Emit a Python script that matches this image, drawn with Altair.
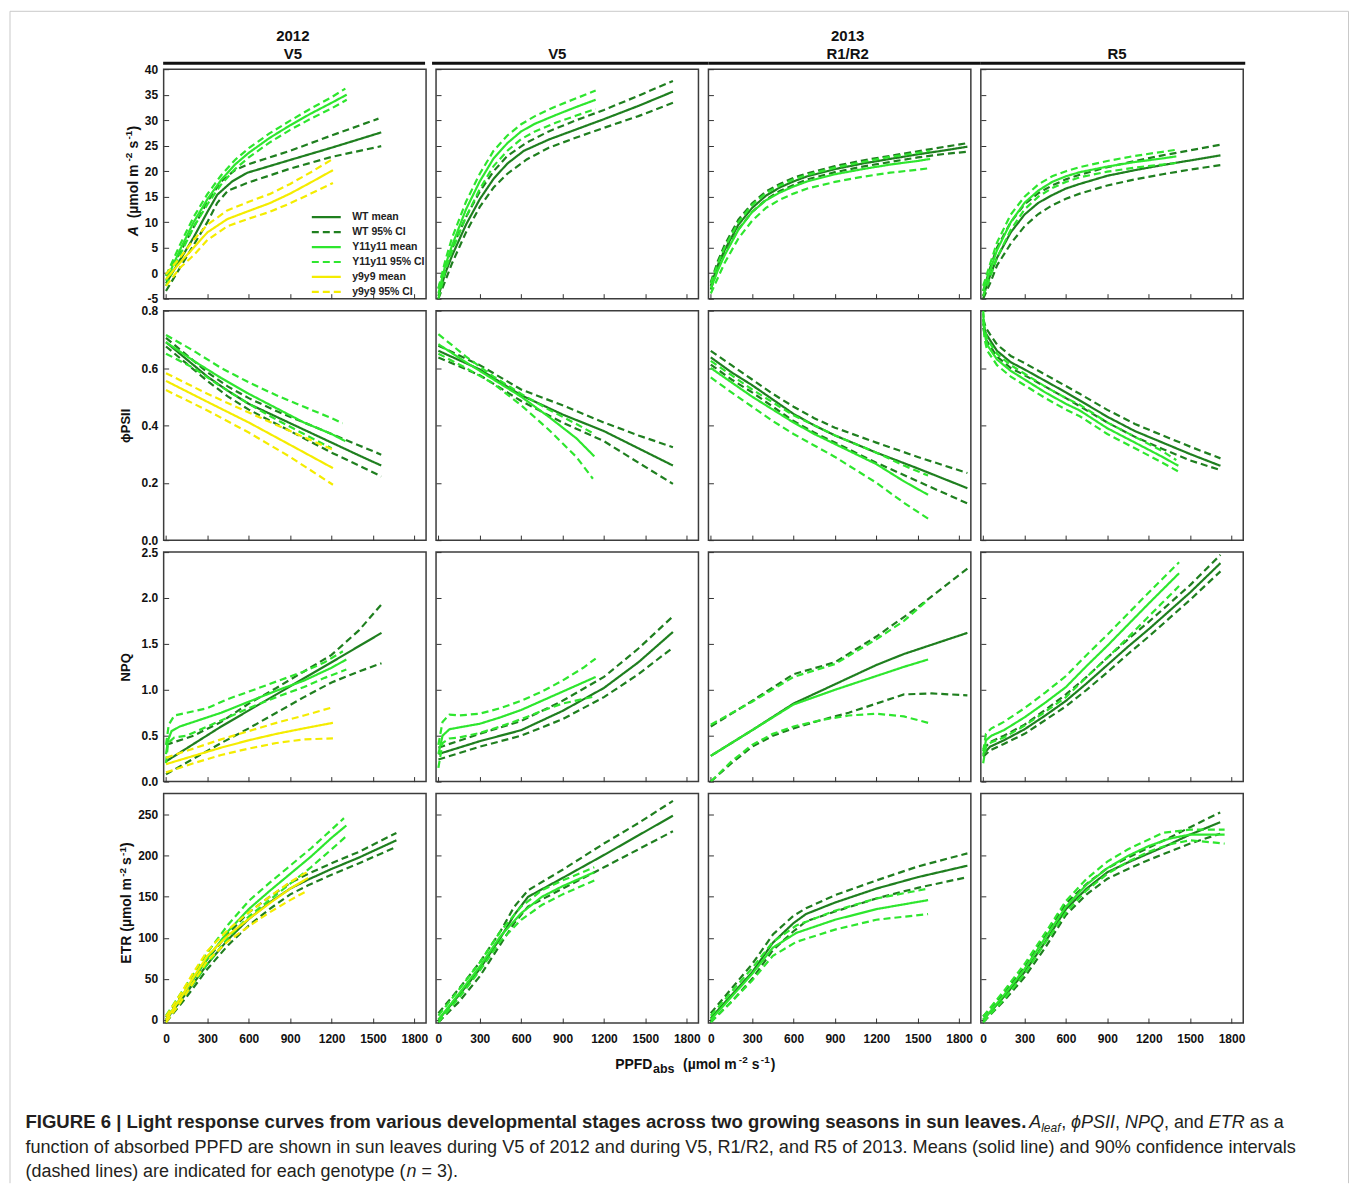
import altair as alt
import pandas as pd

FONT = "Liberation Sans"
DARK = "#1f7f1f"
BRIGHT = "#2ee62e"
YELLOW = "#f4ec00"

# ---------------------------------------------------------------------------
# Data: (PPFDabs, value) pairs per curve
# ---------------------------------------------------------------------------
# ---- A (umol m-2 s-1) ----
A_12V5_WT_MEAN = [(0, -2.0), (100, 2.5), (200, 7.0), (300, 12.0), (372, 15.4), (480, 18.0), (590, 19.7), (900, 22.2), (1200, 24.6), (1560, 27.6)]
A_12V5_WT_UP = [(0, -0.5), (100, 4.0), (200, 9.0), (300, 14.0), (400, 18.0), (500, 20.2), (590, 21.3), (900, 24.0), (1200, 27.0), (1540, 30.3)]
A_12V5_WT_LO = [(0, -3.5), (100, 1.0), (200, 5.5), (300, 10.0), (372, 13.8), (450, 16.2), (590, 17.7), (900, 20.5), (1200, 22.8), (1560, 24.9)]
A_12V5_Y11_MEAN = [(0, -1.5), (100, 4.5), (200, 10.0), (300, 14.5), (400, 18.3), (500, 21.3), (600, 23.6), (750, 26.5), (900, 29.0), (1050, 31.3), (1200, 33.4), (1310, 35.0)]
A_12V5_Y11_UP = [(0, -0.5), (100, 5.5), (200, 11.0), (300, 15.5), (400, 19.2), (500, 22.2), (600, 24.5), (750, 27.4), (900, 29.9), (1050, 32.3), (1200, 34.5), (1300, 36.2)]
A_12V5_Y11_LO = [(0, -2.5), (100, 3.5), (200, 9.0), (300, 13.5), (400, 17.4), (500, 20.4), (600, 22.7), (750, 25.6), (900, 28.1), (1050, 30.3), (1200, 32.3), (1310, 34.0)]
A_12V5_Y9_MEAN = [(0, -1.2), (100, 2.0), (200, 5.0), (300, 8.0), (444, 10.6), (600, 12.2), (750, 13.7), (900, 15.6), (1050, 17.8), (1210, 20.2)]
A_12V5_Y9_UP = [(0, -0.2), (100, 3.0), (200, 6.5), (300, 9.5), (444, 12.3), (600, 14.0), (750, 15.5), (900, 17.5), (1050, 19.8), (1210, 22.4)]
A_12V5_Y9_LO = [(0, -2.5), (100, 1.0), (200, 3.5), (300, 6.5), (444, 9.2), (600, 10.7), (750, 12.0), (900, 13.7), (1050, 15.6), (1210, 17.7)]

A_13V5_WT_MEAN = [(0, -4.5), (50, 0.0), (100, 3.5), (200, 9.5), (300, 14.5), (400, 18.5), (500, 21.5), (620, 24.0), (800, 26.2), (1000, 28.2), (1200, 30.2), (1450, 32.8), (1700, 35.6)]
A_13V5_WT_UP = [(0, -3.0), (50, 1.5), (100, 5.0), (200, 11.0), (300, 16.0), (400, 20.0), (500, 23.0), (640, 25.6), (800, 27.8), (1000, 30.0), (1200, 32.0), (1450, 34.8), (1700, 37.7)]
A_13V5_WT_LO = [(0, -5.0), (50, -1.5), (100, 2.0), (200, 8.0), (300, 13.0), (400, 16.8), (500, 19.5), (640, 22.3), (800, 24.6), (1000, 26.6), (1200, 28.5), (1450, 30.8), (1700, 33.4)]
A_13V5_Y11_MEAN = [(0, -4.0), (50, 1.5), (100, 5.5), (200, 12.5), (300, 18.0), (400, 22.5), (500, 25.5), (600, 27.8), (700, 29.3), (850, 31.0), (1000, 32.6), (1140, 34.0)]
A_13V5_Y11_UP = [(0, -3.0), (50, 2.5), (100, 7.0), (200, 14.0), (300, 19.5), (400, 24.0), (500, 27.0), (600, 29.2), (700, 30.8), (850, 32.7), (1000, 34.3), (1140, 35.8)]
A_13V5_Y11_LO = [(0, -5.0), (50, 0.5), (100, 4.5), (200, 11.0), (300, 16.5), (400, 21.0), (500, 24.0), (600, 26.3), (700, 27.8), (850, 29.5), (1000, 30.9), (1140, 32.2)]

A_R12_WT_MEAN = [(0, -2.5), (50, 1.5), (100, 4.5), (200, 9.5), (300, 12.8), (400, 15.2), (500, 16.8), (600, 18.0), (700, 19.0), (900, 20.4), (1100, 21.5), (1300, 22.4), (1500, 23.3), (1700, 24.1), (1860, 24.8)]
A_R12_WT_UP = [(0, -1.8), (50, 2.3), (100, 5.5), (200, 10.5), (300, 13.7), (400, 16.0), (500, 17.5), (600, 18.7), (700, 19.6), (900, 21.0), (1100, 22.1), (1300, 23.0), (1500, 23.9), (1700, 24.8), (1860, 25.5)]
A_R12_WT_LO = [(0, -3.2), (50, 0.8), (100, 3.7), (200, 8.6), (300, 12.0), (400, 14.4), (500, 16.1), (600, 17.3), (700, 18.4), (900, 19.8), (1100, 20.9), (1300, 21.8), (1500, 22.7), (1700, 23.4), (1860, 23.8)]
A_R12_Y11_MEAN = [(0, -3.0), (50, 0.5), (100, 3.5), (200, 8.5), (300, 12.0), (400, 14.3), (500, 15.8), (600, 17.0), (700, 18.0), (900, 19.4), (1100, 20.4), (1300, 21.3), (1500, 22.0), (1590, 22.4)]
A_R12_Y11_UP = [(0, -2.0), (50, 1.8), (100, 5.0), (200, 10.0), (300, 13.4), (400, 15.7), (500, 17.2), (600, 18.4), (700, 19.3), (900, 20.7), (1100, 21.8), (1300, 22.8), (1500, 23.6), (1590, 24.0)]
A_R12_Y11_LO = [(0, -4.0), (50, -1.0), (100, 2.0), (200, 6.8), (300, 10.3), (400, 12.8), (500, 14.4), (600, 15.6), (700, 16.6), (900, 17.9), (1100, 18.9), (1300, 19.7), (1500, 20.3), (1590, 20.6)]

A_R5_WT_MEAN = [(0, -4.5), (50, -0.5), (100, 3.0), (200, 8.0), (300, 11.5), (400, 13.8), (500, 15.3), (600, 16.6), (700, 17.5), (900, 19.1), (1100, 20.2), (1300, 21.2), (1500, 22.1), (1720, 23.1)]
A_R5_WT_UP = [(0, -3.5), (50, 1.0), (100, 5.0), (200, 10.0), (300, 13.5), (400, 15.7), (500, 17.2), (600, 18.4), (700, 19.3), (900, 20.8), (1100, 22.0), (1300, 23.1), (1500, 24.1), (1720, 25.2)]
A_R5_WT_LO = [(0, -5.0), (50, -2.0), (100, 1.5), (200, 5.8), (300, 9.2), (400, 11.6), (500, 13.3), (600, 14.6), (700, 15.6), (900, 17.2), (1100, 18.4), (1300, 19.4), (1500, 20.3), (1720, 21.2)]
A_R5_Y11_MEAN = [(0, -3.5), (50, 0.5), (100, 4.5), (200, 10.0), (300, 13.8), (400, 16.2), (500, 17.9), (600, 19.0), (700, 19.8), (900, 20.9), (1100, 21.8), (1300, 22.5), (1400, 22.9)]
A_R5_Y11_UP = [(0, -2.5), (50, 1.8), (100, 6.0), (200, 11.5), (300, 15.0), (400, 17.4), (500, 19.0), (600, 20.0), (700, 20.8), (900, 22.0), (1100, 23.0), (1300, 23.8), (1400, 24.2)]
A_R5_Y11_LO = [(0, -4.5), (50, -0.8), (100, 3.0), (200, 8.5), (300, 12.5), (400, 15.0), (500, 16.7), (600, 17.9), (700, 18.8), (900, 19.9), (1100, 20.7), (1300, 21.3), (1400, 21.6)]

# ---- phiPSII ----
P_12V5_WT_MEAN = [(0, 0.69), (150, 0.63), (300, 0.57), (450, 0.52), (600, 0.475), (800, 0.43), (1000, 0.385), (1200, 0.34), (1400, 0.295), (1560, 0.26)]
P_12V5_WT_UP = [(0, 0.705), (150, 0.645), (300, 0.585), (450, 0.535), (600, 0.495), (800, 0.45), (1000, 0.41), (1200, 0.37), (1400, 0.33), (1560, 0.298)]
P_12V5_WT_LO = [(0, 0.675), (150, 0.615), (300, 0.555), (450, 0.50), (600, 0.455), (800, 0.405), (1000, 0.355), (1200, 0.305), (1400, 0.26), (1560, 0.222)]
P_12V5_Y11_MEAN = [(0, 0.69), (200, 0.625), (400, 0.565), (600, 0.51), (800, 0.46), (1000, 0.41), (1200, 0.37), (1300, 0.345)]
P_12V5_Y11_UP = [(0, 0.715), (200, 0.66), (400, 0.60), (600, 0.55), (800, 0.505), (1000, 0.465), (1200, 0.425), (1280, 0.407)]
P_12V5_Y11_LO = [(0, 0.65), (200, 0.60), (400, 0.535), (600, 0.475), (800, 0.42), (1000, 0.37), (1200, 0.32)]
P_12V5_Y9_MEAN = [(0, 0.555), (300, 0.482), (600, 0.41), (900, 0.332), (1210, 0.251)]
P_12V5_Y9_UP = [(0, 0.582), (300, 0.51), (600, 0.445), (900, 0.38), (1210, 0.315)]
P_12V5_Y9_LO = [(0, 0.523), (300, 0.452), (600, 0.375), (900, 0.29), (1210, 0.193)]

P_13V5_WT_MEAN = [(0, 0.66), (300, 0.595), (600, 0.505), (900, 0.438), (1200, 0.38), (1450, 0.32), (1700, 0.26)]
P_13V5_WT_UP = [(0, 0.678), (300, 0.61), (600, 0.525), (900, 0.47), (1200, 0.41), (1450, 0.365), (1700, 0.324)]
P_13V5_WT_LO = [(0, 0.637), (300, 0.575), (600, 0.485), (900, 0.41), (1200, 0.345), (1450, 0.27), (1700, 0.196)]
P_13V5_Y11_MEAN = [(0, 0.683), (200, 0.62), (400, 0.56), (600, 0.50), (800, 0.43), (1000, 0.355), (1130, 0.292)]
P_13V5_Y11_UP = [(0, 0.718), (200, 0.64), (400, 0.57), (600, 0.51), (800, 0.455), (1000, 0.405), (1130, 0.37)]
P_13V5_Y11_LO = [(0, 0.65), (200, 0.60), (400, 0.545), (600, 0.47), (800, 0.385), (1000, 0.29), (1120, 0.214)]

P_R12_WT_MEAN = [(0, 0.637), (150, 0.585), (300, 0.54), (450, 0.49), (600, 0.44), (750, 0.40), (900, 0.365), (1200, 0.305), (1500, 0.25), (1860, 0.181)]
P_R12_WT_UP = [(0, 0.66), (150, 0.61), (300, 0.56), (450, 0.51), (600, 0.465), (750, 0.425), (900, 0.392), (1200, 0.34), (1500, 0.29), (1860, 0.234)]
P_R12_WT_LO = [(0, 0.612), (150, 0.56), (300, 0.515), (450, 0.465), (600, 0.415), (750, 0.375), (900, 0.34), (1200, 0.27), (1500, 0.205), (1860, 0.128)]
P_R12_Y11_MEAN = [(0, 0.60), (150, 0.55), (300, 0.50), (450, 0.455), (600, 0.41), (750, 0.37), (900, 0.335), (1200, 0.265), (1400, 0.205), (1575, 0.158)]
P_R12_Y11_UP = [(0, 0.625), (150, 0.575), (300, 0.525), (450, 0.48), (600, 0.435), (750, 0.40), (900, 0.365), (1200, 0.305), (1400, 0.26), (1575, 0.225)]
P_R12_Y11_LO = [(0, 0.567), (150, 0.515), (300, 0.465), (450, 0.415), (600, 0.37), (750, 0.33), (900, 0.29), (1200, 0.20), (1400, 0.13), (1575, 0.075)]

P_R5_WT_MEAN = [(0, 0.755), (20, 0.72), (50, 0.697), (100, 0.66), (200, 0.62), (300, 0.595), (450, 0.555), (600, 0.515), (700, 0.487), (900, 0.43), (1100, 0.38), (1300, 0.34), (1500, 0.30), (1720, 0.259)]
P_R5_WT_UP = [(0, 0.77), (20, 0.74), (50, 0.717), (100, 0.682), (200, 0.642), (300, 0.617), (450, 0.577), (600, 0.537), (700, 0.51), (900, 0.454), (1100, 0.405), (1300, 0.365), (1500, 0.326), (1720, 0.285)]
P_R5_WT_LO = [(0, 0.74), (20, 0.70), (50, 0.677), (100, 0.64), (200, 0.60), (300, 0.575), (450, 0.535), (600, 0.495), (700, 0.467), (900, 0.41), (1100, 0.36), (1300, 0.318), (1500, 0.278), (1720, 0.244)]
P_R5_Y11_MEAN = [(0, 0.79), (10, 0.72), (30, 0.68), (100, 0.63), (200, 0.59), (300, 0.56), (450, 0.515), (600, 0.475), (700, 0.452), (900, 0.39), (1100, 0.34), (1300, 0.29), (1415, 0.259)]
P_R5_Y11_UP = [(0, 0.80), (10, 0.74), (30, 0.70), (100, 0.65), (200, 0.61), (300, 0.58), (450, 0.535), (600, 0.495), (700, 0.472), (900, 0.41), (1100, 0.36), (1300, 0.31), (1400, 0.279)]
P_R5_Y11_LO = [(0, 0.77), (10, 0.70), (30, 0.66), (100, 0.61), (200, 0.57), (300, 0.54), (450, 0.495), (600, 0.455), (700, 0.432), (900, 0.37), (1100, 0.32), (1300, 0.27), (1415, 0.239)]

# ---- NPQ ----
N_12V5_WT_MEAN = [(0, 0.22), (400, 0.60), (800, 0.95), (1200, 1.30), (1562, 1.62)]
N_12V5_WT_UP = [(0, 0.40), (200, 0.50), (400, 0.65), (600, 0.85), (800, 1.02), (1000, 1.20), (1200, 1.38), (1400, 1.65), (1562, 1.93)]
N_12V5_WT_LO = [(0, 0.08), (200, 0.25), (400, 0.42), (600, 0.58), (800, 0.75), (1000, 0.92), (1200, 1.08), (1400, 1.20), (1562, 1.29)]
N_12V5_Y11_MEAN = [(0, 0.30), (15, 0.45), (40, 0.55), (100, 0.60), (200, 0.65), (400, 0.75), (600, 0.87), (800, 0.99), (1000, 1.10), (1200, 1.24), (1307, 1.33)]
N_12V5_Y11_UP = [(0, 0.40), (20, 0.62), (60, 0.72), (150, 0.75), (300, 0.80), (450, 0.90), (600, 0.98), (800, 1.09), (1000, 1.20), (1150, 1.30), (1282, 1.42)]
N_12V5_Y11_LO = [(0, 0.20), (15, 0.42), (60, 0.48), (150, 0.50), (300, 0.60), (450, 0.70), (600, 0.80), (800, 0.92), (1000, 1.03), (1150, 1.13), (1307, 1.22)]
N_12V5_Y9_MEAN = [(0, 0.19), (200, 0.28), (400, 0.37), (600, 0.45), (800, 0.52), (1000, 0.58), (1210, 0.64)]
N_12V5_Y9_UP = [(0, 0.26), (200, 0.36), (400, 0.46), (600, 0.55), (800, 0.64), (1000, 0.72), (1210, 0.81)]
N_12V5_Y9_LO = [(0, 0.10), (200, 0.20), (400, 0.29), (600, 0.36), (800, 0.42), (1000, 0.46), (1210, 0.47)]

N_13V5_WT_MEAN = [(0, 0.30), (300, 0.44), (600, 0.56), (900, 0.77), (1200, 1.02), (1450, 1.30), (1700, 1.63)]
N_13V5_WT_UP = [(0, 0.37), (300, 0.52), (600, 0.66), (900, 0.88), (1200, 1.14), (1450, 1.45), (1700, 1.80)]
N_13V5_WT_LO = [(0, 0.24), (300, 0.38), (600, 0.50), (900, 0.68), (1200, 0.92), (1450, 1.17), (1700, 1.46)]
N_13V5_Y11_MEAN = [(0, 0.30), (30, 0.50), (80, 0.57), (150, 0.59), (300, 0.63), (450, 0.70), (600, 0.78), (750, 0.88), (900, 0.98), (1050, 1.08), (1140, 1.14)]
N_13V5_Y11_UP = [(0, 0.40), (30, 0.65), (80, 0.73), (150, 0.72), (300, 0.74), (450, 0.80), (600, 0.88), (750, 0.98), (900, 1.10), (1050, 1.24), (1140, 1.34)]
N_13V5_Y11_LO = [(0, 0.15), (30, 0.42), (80, 0.47), (150, 0.48), (300, 0.53), (450, 0.60), (600, 0.68), (750, 0.77), (900, 0.85), (1050, 0.90), (1140, 0.93)]

N_R12_WT_MEAN = [(0, 0.28), (300, 0.56), (600, 0.85), (900, 1.06), (1200, 1.27), (1400, 1.39), (1860, 1.62)]
N_R12_WT_UP = [(0, 0.60), (300, 0.88), (600, 1.17), (900, 1.30), (1200, 1.58), (1500, 1.90), (1860, 2.32)]
N_R12_WT_LO = [(0, 0.0), (150, 0.20), (300, 0.38), (450, 0.50), (600, 0.58), (800, 0.67), (1000, 0.75), (1200, 0.85), (1400, 0.95), (1600, 0.96), (1860, 0.94)]
N_R12_Y11_MEAN = [(0, 0.28), (300, 0.56), (600, 0.84), (900, 1.00), (1200, 1.15), (1400, 1.25), (1575, 1.33)]
N_R12_Y11_UP = [(0, 0.62), (300, 0.87), (600, 1.14), (900, 1.28), (1200, 1.55), (1400, 1.75), (1575, 1.98)]
N_R12_Y11_LO = [(0, 0.0), (150, 0.22), (300, 0.40), (450, 0.52), (600, 0.60), (800, 0.67), (1000, 0.72), (1200, 0.74), (1400, 0.71), (1575, 0.64)]

N_R5_WT_MEAN = [(0, 0.30), (50, 0.38), (150, 0.45), (300, 0.57), (450, 0.72), (600, 0.88), (750, 1.07), (900, 1.27), (1050, 1.47), (1200, 1.66), (1350, 1.86), (1500, 2.06), (1720, 2.38)]
N_R5_WT_UP = [(0, 0.35), (50, 0.43), (150, 0.50), (300, 0.62), (450, 0.78), (600, 0.95), (750, 1.14), (900, 1.35), (1050, 1.55), (1200, 1.74), (1350, 1.94), (1500, 2.14), (1720, 2.47)]
N_R5_WT_LO = [(0, 0.27), (50, 0.34), (150, 0.41), (300, 0.52), (450, 0.67), (600, 0.82), (750, 1.00), (900, 1.19), (1050, 1.39), (1200, 1.58), (1350, 1.78), (1500, 1.98), (1720, 2.29)]
N_R5_Y11_MEAN = [(0, 0.28), (20, 0.45), (60, 0.50), (150, 0.56), (300, 0.70), (450, 0.86), (600, 1.03), (750, 1.26), (900, 1.48), (1050, 1.71), (1200, 1.94), (1300, 2.09), (1420, 2.27)]
N_R5_Y11_UP = [(0, 0.33), (20, 0.52), (60, 0.58), (150, 0.65), (300, 0.80), (450, 0.97), (600, 1.15), (750, 1.38), (900, 1.60), (1050, 1.83), (1200, 2.06), (1300, 2.21), (1420, 2.39)]
N_R5_Y11_LO = [(0, 0.20), (20, 0.38), (60, 0.43), (150, 0.48), (300, 0.61), (450, 0.76), (600, 0.92), (750, 1.14), (900, 1.35), (1050, 1.57), (1200, 1.80), (1300, 1.95), (1420, 2.13)]

# ---- ETR (umol m-2 s-1) ----
E_12V5_WT_MEAN = [(0, 0), (150, 33), (300, 68), (450, 98), (600, 123), (750, 143), (900, 160), (1030, 171), (1200, 184), (1400, 198), (1670, 219)]
E_12V5_WT_UP = [(0, 3), (150, 38), (300, 74), (450, 105), (600, 131), (750, 150), (900, 167), (1030, 178), (1200, 191), (1400, 205), (1670, 228)]
E_12V5_WT_LO = [(0, -3), (150, 28), (300, 62), (450, 91), (600, 115), (750, 135), (900, 153), (1030, 164), (1200, 177), (1400, 191), (1670, 211)]
E_12V5_Y11_MEAN = [(0, 0), (150, 38), (300, 75), (450, 108), (600, 135), (750, 157), (900, 178), (1050, 199), (1200, 222), (1307, 237)]
E_12V5_Y11_UP = [(0, 5), (150, 43), (300, 82), (450, 116), (600, 145), (750, 167), (900, 188), (1050, 209), (1200, 232), (1290, 246)]
E_12V5_Y11_LO = [(0, -3), (150, 33), (300, 68), (450, 100), (600, 126), (750, 146), (900, 166), (1050, 186), (1200, 208), (1307, 224)]
E_12V5_Y9_MEAN = [(0, 0), (100, 25), (200, 52), (300, 78), (450, 103), (600, 123), (750, 142), (900, 160), (1030, 173)]
E_12V5_Y9_UP = [(0, 4), (100, 30), (200, 58), (300, 84), (450, 110), (600, 131), (750, 150), (900, 168), (1030, 181)]
E_12V5_Y9_LO = [(0, -3), (100, 20), (200, 46), (300, 72), (450, 96), (600, 114), (750, 131), (900, 146), (1030, 158)]

E_13V5_WT_MEAN = [(0, 0), (150, 30), (300, 62), (450, 100), (550, 128), (650, 150), (900, 173), (1200, 201), (1450, 225), (1700, 249)]
E_13V5_WT_UP = [(0, 8), (150, 38), (300, 70), (450, 108), (550, 138), (650, 158), (900, 183), (1200, 215), (1450, 240), (1700, 267)]
E_13V5_WT_LO = [(0, -3), (150, 22), (300, 53), (450, 92), (550, 118), (650, 138), (900, 160), (1200, 186), (1450, 208), (1700, 230)]
E_13V5_Y11_MEAN = [(0, 0), (150, 32), (300, 65), (450, 102), (600, 130), (750, 150), (900, 163), (1130, 180)]
E_13V5_Y11_UP = [(0, 5), (150, 37), (300, 70), (450, 108), (600, 138), (750, 158), (900, 170), (1130, 186)]
E_13V5_Y11_LO = [(0, -3), (150, 27), (300, 60), (450, 96), (600, 122), (750, 140), (900, 153), (1130, 170)]

E_R12_WT_MEAN = [(0, 2), (150, 30), (300, 58), (450, 94), (600, 118), (690, 129), (900, 143), (1200, 160), (1500, 174), (1860, 188)]
E_R12_WT_UP = [(0, 8), (150, 38), (300, 68), (450, 104), (600, 127), (690, 136), (900, 152), (1200, 170), (1500, 187), (1860, 203)]
E_R12_WT_LO = [(0, -3), (150, 22), (300, 50), (450, 85), (600, 108), (690, 120), (900, 132), (1200, 148), (1500, 161), (1860, 174)]
E_R12_Y11_MEAN = [(0, 0), (150, 28), (300, 56), (450, 88), (620, 106), (900, 122), (1200, 135), (1575, 146)]
E_R12_Y11_UP = [(0, 5), (150, 34), (300, 63), (450, 95), (620, 115), (900, 133), (1200, 148), (1575, 160)]
E_R12_Y11_LO = [(0, -3), (150, 22), (300, 48), (450, 78), (620, 95), (900, 110), (1200, 122), (1575, 129)]

E_R5_WT_MEAN = [(0, 0), (150, 28), (300, 58), (450, 95), (600, 135), (750, 160), (900, 180), (1050, 192), (1200, 203), (1350, 214), (1500, 226), (1718, 241)]
E_R5_WT_UP = [(0, 4), (150, 33), (300, 64), (450, 102), (600, 142), (750, 166), (900, 185), (1050, 198), (1200, 210), (1350, 222), (1500, 235), (1718, 253)]
E_R5_WT_LO = [(0, -3), (150, 23), (300, 52), (450, 88), (600, 128), (750, 153), (900, 172), (1050, 184), (1200, 195), (1350, 205), (1500, 215), (1718, 227)]
E_R5_Y11_MEAN = [(0, 0), (150, 30), (300, 62), (450, 100), (600, 138), (750, 165), (900, 185), (1050, 200), (1200, 212), (1350, 221), (1500, 226), (1750, 226)]
E_R5_Y11_UP = [(0, 4), (150, 35), (300, 68), (450, 106), (600, 145), (750, 172), (900, 193), (1050, 208), (1200, 220), (1300, 228), (1500, 232), (1750, 232)]
E_R5_Y11_LO = [(0, -3), (150, 25), (300, 56), (450, 94), (600, 131), (750, 158), (900, 178), (1050, 193), (1200, 205), (1350, 214), (1500, 219), (1750, 215)]

# ---------------------------------------------------------------------------
GENOTYPES = ["WT", "Y11y11", "y9y9"]
SERIES = ["WT mean", "WT 95% CI", "Y11y11 mean", "Y11y11 95% CI", "y9y9 mean", "y9y9 95% CI"]
SERIES_COLORS = [DARK, DARK, BRIGHT, BRIGHT, YELLOW, YELLOW]
SERIES_DASH = [[1, 0], [7, 4], [1, 0], [7, 4], [1, 0], [7, 4]]

STAGE_TITLES = [["2012", "V5"], "V5", ["2013", "R1/R2"], "R5"]
STAGE_DX = [-2, -10, 8, 5]
HEADER_RULE = [(-0.5, 262), (-4, 273), (0, 273), (0, 265)]

Y_TITLES = [None, "ϕPSII", "NPQ", None]
Y_DOMAINS = [[-5, 40], [0, 0.8], [0, 2.5], [-4, 276]]
Y_TICKS = [[-5, 0, 5, 10, 15, 20, 25, 30, 35, 40],
           [0, 0.2, 0.4, 0.6, 0.8],
           [0, 0.5, 1.0, 1.5, 2.0, 2.5],
           [0, 50, 100, 150, 200, 250]]
Y_FORMATS = ["d", ".1f", ".1f", "d"]
X_TICKS = [0, 300, 600, 900, 1200, 1500, 1800]
X_DOMAIN = [-17, 1885]

# rotated y titles with real superscripts: (text, style, size, page_y_start, page_x_baseline)
A_TITLE = [("A", "italic", 14, 237, 137.5), ("(µmol m", "normal", 14, 219, 137.5), ("-2", "normal", 10, 162, 132),
           ("s", "normal", 14, 149, 137.5), ("-1", "normal", 10, 140, 132), (")", "normal", 14, 131, 137.5)]
ETR_TITLE = [("ETR", "normal", 14, 966, 131), ("(µmol m", "normal", 14, 934, 131), ("-2", "normal", 10, 879, 125.5),
             ("s", "normal", 14, 867, 131), ("-1", "normal", 10, 858, 125.5), (")", "normal", 14, 849, 131)]
# x title: (text, size, page_x_start, page_y_baseline)
X_TITLE = [("PPFD", 14, 616, 1072), ("abs", 12.5, 654, 1076), ("(µmol m", 14, 684, 1072), ("-2", 10, 740, 1066),
           ("s", 14, 753, 1072), ("-1", 10, 762, 1066), (")", 14, 772, 1072)]

PANELS = [
    [
        {"WT": (A_12V5_WT_MEAN, A_12V5_WT_UP, A_12V5_WT_LO), "Y11y11": (A_12V5_Y11_MEAN, A_12V5_Y11_UP, A_12V5_Y11_LO), "y9y9": (A_12V5_Y9_MEAN, A_12V5_Y9_UP, A_12V5_Y9_LO)},
        {"WT": (A_13V5_WT_MEAN, A_13V5_WT_UP, A_13V5_WT_LO), "Y11y11": (A_13V5_Y11_MEAN, A_13V5_Y11_UP, A_13V5_Y11_LO)},
        {"WT": (A_R12_WT_MEAN, A_R12_WT_UP, A_R12_WT_LO), "Y11y11": (A_R12_Y11_MEAN, A_R12_Y11_UP, A_R12_Y11_LO)},
        {"WT": (A_R5_WT_MEAN, A_R5_WT_UP, A_R5_WT_LO), "Y11y11": (A_R5_Y11_MEAN, A_R5_Y11_UP, A_R5_Y11_LO)},
    ],
    [
        {"WT": (P_12V5_WT_MEAN, P_12V5_WT_UP, P_12V5_WT_LO), "Y11y11": (P_12V5_Y11_MEAN, P_12V5_Y11_UP, P_12V5_Y11_LO), "y9y9": (P_12V5_Y9_MEAN, P_12V5_Y9_UP, P_12V5_Y9_LO)},
        {"WT": (P_13V5_WT_MEAN, P_13V5_WT_UP, P_13V5_WT_LO), "Y11y11": (P_13V5_Y11_MEAN, P_13V5_Y11_UP, P_13V5_Y11_LO)},
        {"WT": (P_R12_WT_MEAN, P_R12_WT_UP, P_R12_WT_LO), "Y11y11": (P_R12_Y11_MEAN, P_R12_Y11_UP, P_R12_Y11_LO)},
        {"WT": (P_R5_WT_MEAN, P_R5_WT_UP, P_R5_WT_LO), "Y11y11": (P_R5_Y11_MEAN, P_R5_Y11_UP, P_R5_Y11_LO)},
    ],
    [
        {"WT": (N_12V5_WT_MEAN, N_12V5_WT_UP, N_12V5_WT_LO), "Y11y11": (N_12V5_Y11_MEAN, N_12V5_Y11_UP, N_12V5_Y11_LO), "y9y9": (N_12V5_Y9_MEAN, N_12V5_Y9_UP, N_12V5_Y9_LO)},
        {"WT": (N_13V5_WT_MEAN, N_13V5_WT_UP, N_13V5_WT_LO), "Y11y11": (N_13V5_Y11_MEAN, N_13V5_Y11_UP, N_13V5_Y11_LO)},
        {"WT": (N_R12_WT_MEAN, N_R12_WT_UP, N_R12_WT_LO), "Y11y11": (N_R12_Y11_MEAN, N_R12_Y11_UP, N_R12_Y11_LO)},
        {"WT": (N_R5_WT_MEAN, N_R5_WT_UP, N_R5_WT_LO), "Y11y11": (N_R5_Y11_MEAN, N_R5_Y11_UP, N_R5_Y11_LO)},
    ],
    [
        {"WT": (E_12V5_WT_MEAN, E_12V5_WT_UP, E_12V5_WT_LO), "Y11y11": (E_12V5_Y11_MEAN, E_12V5_Y11_UP, E_12V5_Y11_LO), "y9y9": (E_12V5_Y9_MEAN, E_12V5_Y9_UP, E_12V5_Y9_LO)},
        {"WT": (E_13V5_WT_MEAN, E_13V5_WT_UP, E_13V5_WT_LO), "Y11y11": (E_13V5_Y11_MEAN, E_13V5_Y11_UP, E_13V5_Y11_LO)},
        {"WT": (E_R12_WT_MEAN, E_R12_WT_UP, E_R12_WT_LO), "Y11y11": (E_R12_Y11_MEAN, E_R12_Y11_UP, E_R12_Y11_LO)},
        {"WT": (E_R5_WT_MEAN, E_R5_WT_UP, E_R5_WT_LO), "Y11y11": (E_R5_Y11_MEAN, E_R5_Y11_UP, E_R5_Y11_LO)},
    ],
]

CAPTION_LINE1_BOLD = "FIGURE 6 | Light response curves from various developmental stages across two growing seasons in sun leaves."
# (text, style, page_x, dy, size)
CAPTION_LINE1_TAIL = [("A", "italic", 1031, 0, 18), ("leaf", "italic", 1043, 4, 12), (",", "normal", 1063, 0, 18),
                      ("ϕPSII", "italic", 1073, 0, 18), (",", "normal", 1117, 0, 18), ("NPQ", "italic", 1127, 0, 18),
                      (", and", "normal", 1166, 0, 18), ("ETR", "italic", 1211, 0, 18), ("as a", "normal", 1252, 0, 18)]
CAPTION_LINE2 = "function of absorbed PPFD are shown in sun leaves during V5 of 2012 and during V5, R1/R2, and R5 of 2013. Means (solid line) and 90% confidence intervals"
CAPTION_LINE3 = [("(dashed lines) are indicated for each genotype (", "normal", 25), ("n", "italic", 407), ("= 3).", "normal", 422)]
CAPTION_BASELINES = [1131, 1156, 1180]

W, H = 263, 230
ORIGIN_X = [163.5, 436.5, 708.5, 981.5]
ORIGIN_Y = [69.5, 311.5, 553.5, 795.5]
ONE = pd.DataFrame({"k": [0]})


def panel_df(curves):
    rows = []
    for geno in GENOTYPES:
        if geno not in curves:
            continue
        mean, up, lo = curves[geno]
        for stat, pts in (("mean", mean), ("upper", up), ("lower", lo)):
            series = geno + (" mean" if stat == "mean" else " 95% CI")
            for x, y in pts:
                rows.append({"x": x, "y": y, "series": series, "curve": geno + "-" + stat})
    return pd.DataFrame(rows)


def x_enc(bottom):
    return alt.X("x:Q", scale=alt.Scale(domain=X_DOMAIN, nice=False, zero=False),
                 axis=alt.Axis(values=X_TICKS, labels=bottom, title=None, domain=False, grid=False,
                               ticks=True, tickSize=5, offset=-5, tickColor="#333", tickWidth=1,
                               labelFont=FONT, labelFontSize=12, labelFontWeight="bold", labelColor="#111",
                               labelPadding=10, labelFlush=False, labelOverlap=False, format="d"))


def y_enc(r, left):
    kw = dict(values=Y_TICKS[r], labels=left, domain=False, grid=False, ticks=True, tickSize=5,
              offset=-5, tickColor="#333", tickWidth=1, labelFont=FONT, labelFontSize=12,
              labelFontWeight="bold", labelColor="#111", labelPadding=6, labelFlush=False,
              labelOverlap=False, format=Y_FORMATS[r])
    if left and Y_TITLES[r]:
        kw.update(title=Y_TITLES[r], titleFont=FONT, titleFontSize=13, titleFontWeight="bold",
                  titleColor="#111", titlePadding=9)
    else:
        kw["title"] = None
    if left and r == 0:
        kw["labelExpr"] = "'' + datum.value"
    return alt.Y("y:Q", scale=alt.Scale(domain=Y_DOMAINS[r], nice=False, zero=False), axis=alt.Axis(**kw))


LEGEND = alt.Legend(title=None, orient="none", legendX=147, legendY=141, symbolType="stroke",
                    symbolSize=841, symbolStrokeWidth=2.2, labelFont=FONT, labelFontSize=10.5,
                    labelFontWeight="bold", labelColor="#222", clipHeight=14.5, rowPadding=0,
                    labelOffset=10, padding=0)


def text_layer(txt, x, y, size=18, weight="normal", style="normal", align="left", color="#231f20", angle=0):
    return alt.Chart(ONE).mark_text(text=txt, font=FONT, fontSize=size, fontWeight=weight, fontStyle=style,
                                    align=align, baseline="alphabetic", color=color, angle=angle).encode(
        x=alt.value(x), y=alt.value(y))


panels = []
for r in range(4):
    for c in range(4):
        ox, oy = ORIGIN_X[c], ORIGIN_Y[r]
        df = panel_df(PANELS[r][c])
        first = (r == 0 and c == 0)
        lines = alt.Chart(df).mark_line(strokeWidth=2.2, clip=True).encode(
            x=x_enc(r == 3),
            y=y_enc(r, c == 0),
            color=alt.Color("series:N", scale=alt.Scale(domain=SERIES, range=SERIES_COLORS),
                            legend=LEGEND if first else None),
            strokeDash=alt.StrokeDash("series:N", scale=alt.Scale(domain=SERIES, range=SERIES_DASH),
                                      legend=LEGEND if first else None),
            detail="curve:N",
        )
        layers = [lines]
        if r == 0:
            x0, x1 = HEADER_RULE[c]
            layers.append(alt.Chart(ONE).mark_rule(strokeWidth=3, color="#111").encode(
                x=alt.value(x0), x2=alt.value(x1), y=alt.value(-6)))
        if c == 0 and r == 0:
            for txt, st, sz, py, px in A_TITLE:
                layers.append(text_layer(txt, px - ox, py - oy, size=sz, weight="bold", style=st,
                                         color="#111", angle=270))
        if c == 0 and r == 3:
            for txt, st, sz, py, px in ETR_TITLE:
                layers.append(text_layer(txt, px - ox, py - oy, size=sz, weight="bold", style=st,
                                         color="#111", angle=270))
            # caption
            b1, b2, b3 = CAPTION_BASELINES
            layers.append(text_layer(CAPTION_LINE1_BOLD, 25 - ox, b1 - oy, size=18.6, weight="bold"))
            for txt, st, px, dy, sz in CAPTION_LINE1_TAIL:
                layers.append(text_layer(txt, px - ox, b1 - oy + dy, size=sz, style=st))
            layers.append(text_layer(CAPTION_LINE2, 25 - ox, b2 - oy, size=18.15))
            for txt, st, px in CAPTION_LINE3:
                layers.append(text_layer(txt, px - ox, b3 - oy, style=st))
        if r == 3 and c == 1:
            for txt, sz, px, py in X_TITLE:
                layers.append(text_layer(txt, px - ox, py - oy, size=sz, weight="bold", color="#111"))
        if r == 3 and c == 3:
            frame = "#c9c9c9"
            top = 11.5
            layers.append(alt.Chart(ONE).mark_rule(strokeWidth=1, color=frame).encode(
                x=alt.value(8.5 - ox), y=alt.value(top - oy), y2=alt.value(1186 - oy)))
            layers.append(alt.Chart(ONE).mark_rule(strokeWidth=1, color=frame).encode(
                x=alt.value(1350 - ox), y=alt.value(top - oy), y2=alt.value(1186 - oy)))
            layers.append(alt.Chart(ONE).mark_rule(strokeWidth=1, color=frame).encode(
                x=alt.value(8.5 - ox), x2=alt.value(1350 - ox), y=alt.value(top - oy)))
        ch = alt.layer(*layers).properties(width=W, height=H)
        if r == 0:
            ch = ch.properties(title=alt.TitleParams(text=STAGE_TITLES[c], font=FONT, fontSize=15,
                                                     fontWeight="bold", color="#111", offset=0,
                                                     lineHeight=18, anchor="middle", dx=STAGE_DX[c]))
        panels.append(ch)

chart = alt.concat(*panels, columns=4, spacing={"row": 12, "column": 10}, bounds="flush").resolve_scale(
    color="independent", strokeDash="independent"
).properties(padding=0).configure_view(stroke="#3c3c3c", strokeWidth=1.5)

chart.save("out.html", embed_options={"renderer": "svg", "actions": False})
